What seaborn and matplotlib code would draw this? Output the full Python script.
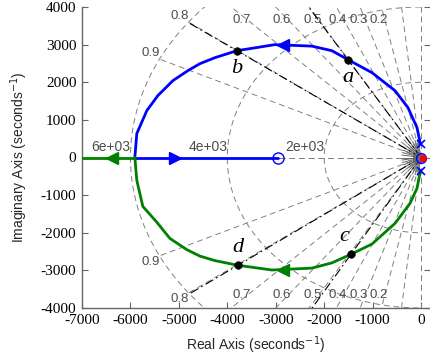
import numpy as np
import pandas as pd
import matplotlib
matplotlib.use("Agg")
import matplotlib.pyplot as plt
import seaborn as sns

# ---------------- data ----------------
upper_x = [-5909, -5868, -5661, -5434, -5124, -4814, -4566, -4256, -3802, -3017,
           -2252, -1839, -1508, -1012, -537, -269, -83, -10]
upper_y = [0, 637, 1247, 1645, 2042, 2308, 2493, 2653, 2838, 3000,
           2960, 2838, 2600, 2255, 1777, 1326, 796, 350]
lower_x = [-5909, -5868, -5744, -5455, -5186, -4835, -4566, -4256, -3781, -3079,
           -2252, -1839, -1446, -1012, -537, -227, -83, -10]
lower_y = [0, -610, -1300, -1720, -2150, -2450, -2620, -2740, -2865, -2990,
           -2940, -2800, -2573, -2300, -1751, -1220, -820, -350]
blue_real_x = [-5909, -2955]
green_real_x = [-5909, -7000]

zero_x = [-2955, 0]
pole_x = [-10, -10]
pole_y = [350, -350]

mark_names = ["a", "b", "c", "d"]
mark_x = [-1508, -3802, -1446, -3781]
mark_y = [2600, 2838, -2573, -2865]

zeta_values = [0.9, 0.8, 0.7, 0.6, 0.5, 0.4, 0.3, 0.2]
zeta_extra = [1.0, 0.1, 0.0]
wn_values = [2000, 4000, 6000]
wn_labels = ["2e+03", "4e+03", "6e+03"]

x_ticks = [-7000, -6000, -5000, -4000, -3000, -2000, -1000, 0]
y_ticks = [-4000, -3000, -2000, -1000, 0, 1000, 2000, 3000, 4000]

# ---------------- style ----------------
sns.set_theme(style="white")
plt.rcParams["font.family"] = ["Liberation Serif", "DejaVu Serif"]
plt.rcParams["axes.unicode_minus"] = False
SANS = ["Liberation Sans", "DejaVu Sans"]

fig = plt.figure(figsize=(4.30, 3.63), dpi=100)
ax = fig.add_axes([82 / 430, 1 - 308 / 363, 348 / 430, 301 / 363])
ax.set_xlim(-7000, 186)
ax.set_ylim(-4000, 4000)

BLUE = "#0000ff"
GREEN = "#008000"
GRID = "#808080"
LBL = "#4d4d4d"
RMAX = 6000

# ---- s-grid: damping rays ----
for z in zeta_values + zeta_extra:
    th = np.arccos(z)
    for sgn in (1, -1):
        ax.plot([0, -RMAX * np.cos(th)], [0, sgn * RMAX * np.sin(th)],
                ls=(0, (6, 4)), color=GRID, lw=0.7, zorder=1)

# ---- s-grid: natural-frequency circles ----
t = np.linspace(np.pi / 2, 3 * np.pi / 2, 300)
for r in wn_values:
    ax.plot(r * np.cos(t), r * np.sin(t), ls=(0, (6, 4)), color=GRID, lw=0.7, zorder=1)
for r, lab in zip(wn_values, wn_labels):
    ax.text(-r, 100, lab, ha="right", va="bottom", fontsize=10, color=LBL, family=SANS)

# ---- zeta labels ----
for z in zeta_values:
    th = np.arccos(z)
    ex, ey = -RMAX * np.cos(th), RMAX * np.sin(th)
    if ey > 3650:
        ex, ey = -3650 * z / np.sqrt(1 - z * z), 3650
        for sy in (1, -1):
            ax.text(ex + 60, sy * ey, f"{z:.1f}", ha="right", va="center", fontsize=9.5,
                    color=LBL, family=SANS)
    else:
        ax.text(ex, ey, f"{z:.1f}", ha="right", va="bottom", fontsize=9.5, color=LBL, family=SANS)
        ax.text(ex, -ey, f"{z:.1f}", ha="right", va="top", fontsize=9.5, color=LBL, family=SANS)

# ---- fine fan near the origin ----
for ang in np.arange(100, 262, 8):
    a = np.radians(ang)
    ax.plot([120 * np.cos(a), 400 * np.cos(a)], [150 * np.sin(a), 480 * np.sin(a)],
            color="#666666", lw=0.7, zorder=2)

# ---- black dash-dot lines through the marked points ----
for mx, my in zip(mark_x, mark_y):
    r = np.hypot(mx, my)
    ax.plot([0, mx / r * RMAX], [0, my / r * RMAX], color="black", lw=0.8,
            ls=(0, (8, 3, 1.5, 3)), zorder=3)

# ---- root locus ----
df_up = pd.DataFrame({"x": upper_x, "y": upper_y})
df_lo = pd.DataFrame({"x": lower_x, "y": lower_y})
sns.lineplot(data=df_up, x="x", y="y", sort=False, color=BLUE, lw=2, ax=ax, zorder=4)
sns.lineplot(data=df_lo, x="x", y="y", sort=False, color=GREEN, lw=2, ax=ax, zorder=4)
sns.lineplot(x=blue_real_x, y=[0, 0], sort=False, color=BLUE, lw=2, ax=ax, zorder=4)
sns.lineplot(x=green_real_x, y=[0, 0], sort=False, color=GREEN, lw=2, ax=ax, zorder=4)

# direction arrows
ax.plot(-2850, 3000, marker="<", color=BLUE, ms=8, zorder=5)
ax.plot(-2850, -2990, marker="<", color=GREEN, ms=8, zorder=5)
ax.plot(-5080, 0, marker=">", color=BLUE, ms=8, zorder=5)
ax.plot(-6384, 0, marker="<", color=GREEN, ms=8, zorder=5)

# poles & zeros
ax.plot(zero_x[0], 0, marker="o", mfc="none", mec=BLUE, ms=8, mew=1, zorder=6)
ax.plot(-60, 0, marker="o", color="#666666", ms=7, zorder=6)
ax.plot(zero_x[1], 0, marker="o", mfc="none", mec=BLUE, ms=7, mew=1, zorder=6)
ax.plot(40, -20, marker="o", color="red", ms=4, zorder=7)
ax.plot(pole_x, pole_y, ls="none", marker="x", color=BLUE, ms=6, mew=1.2, zorder=6)

# marked points
sns.scatterplot(x=mark_x, y=mark_y, color="black", s=30, ax=ax, zorder=7, edgecolor="black")
offs = {"a": (0, -230, "top"), "b": (0, -230, "top"), "c": (-140, 230, "bottom"), "d": (0, 230, "bottom")}
for n, mx, my in zip(mark_names, mark_x, mark_y):
    dx, dy, va = offs[n]
    ax.text(mx + dx, my + dy, n, ha="center", va=va, fontsize=16, style="italic",
            color="black", zorder=8)

# ---- axes ----
ax.set_xticks(x_ticks)
ax.set_yticks(y_ticks)
ax.set_xticklabels([str(v) for v in x_ticks])
ax.set_yticklabels([str(v) for v in y_ticks])
ax.tick_params(direction="in", length=4, width=0.8, color="#666666", pad=4,
               labelsize=11, labelcolor="black", right=True, left=True, bottom=True)
for s in ["left", "bottom"]:
    ax.spines[s].set_color("#666666")
    ax.spines[s].set_linewidth(1)
ax.spines["top"].set_visible(False)
ax.spines["right"].set_visible(False)
ax.set_xlabel("Real Axis (seconds$^{-1}$)", fontsize=10, labelpad=6, family=SANS)
ax.set_ylabel("Imaginary Axis (seconds$^{-1}$)", fontsize=10, labelpad=8, family=SANS)
ax.grid(False)

fig.savefig("out.png", dpi=100)
